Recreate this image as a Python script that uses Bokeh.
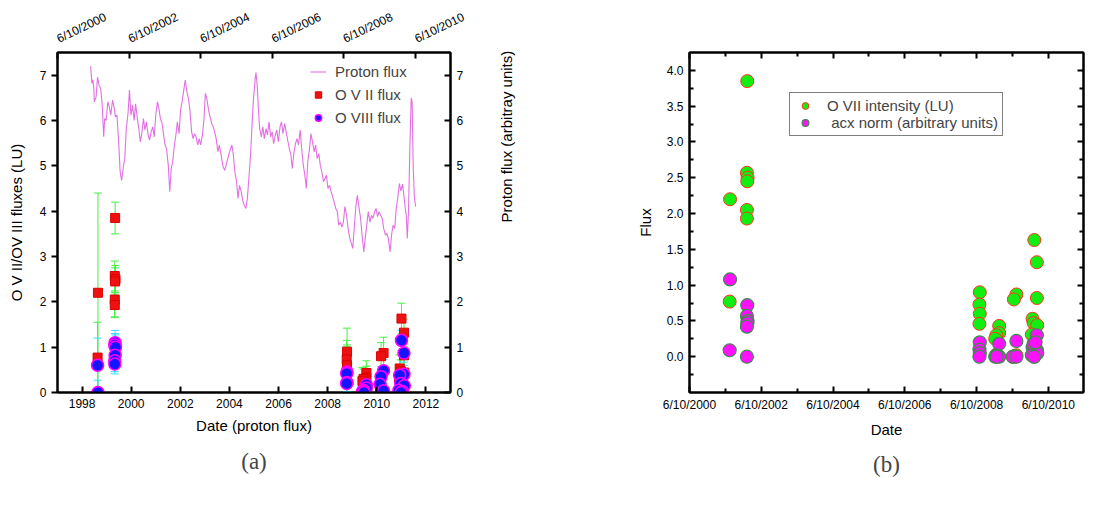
import math
from bokeh.plotting import figure
from bokeh.models import (Range1d, LinearAxis, FixedTicker, ColumnDataSource, Whisker,
                          TeeHead, Legend, LegendItem, Title, NumeralTickFormatter)
from bokeh.layouts import row
from bokeh.embed import file_html
from bokeh.resources import INLINE

# ---------------------------------------------------------------- data
# Proton flux (arbitrary units) against decimal year
pf_year = [
    1998.35, 1998.40, 1998.44, 1998.48, 1998.50, 1998.57, 1998.63, 1998.69, 1998.76, 1998.82,
    1998.88, 1998.92, 1998.98, 1999.05, 1999.11, 1999.17, 1999.24, 1999.30, 1999.36, 1999.42,
    1999.49, 1999.55, 1999.61, 1999.68, 1999.74, 1999.80, 1999.87, 1999.93, 1999.99, 2000.06,
    2000.12, 2000.18, 2000.25, 2000.31, 2000.37, 2000.43, 2000.50, 2000.56, 2000.62, 2000.69,
    2000.75, 2000.81, 2000.88, 2000.94, 2001.00, 2001.07, 2001.13, 2001.19, 2001.26, 2001.32,
    2001.38, 2001.44, 2001.51, 2001.57, 2001.63, 2001.69, 2001.76, 2001.82, 2001.88, 2001.95,
    2002.01, 2002.07, 2002.14, 2002.20, 2002.27, 2002.33, 2002.39, 2002.46, 2002.52, 2002.58,
    2002.64, 2002.71, 2002.77, 2002.83, 2002.90, 2002.96, 2003.02, 2003.09, 2003.15, 2003.21,
    2003.28, 2003.34, 2003.40, 2003.46, 2003.53, 2003.59, 2003.65, 2003.74, 2003.81, 2003.88,
    2003.95, 2004.03, 2004.10, 2004.16, 2004.22, 2004.29, 2004.35, 2004.41, 2004.48, 2004.54,
    2004.60, 2004.67, 2004.73, 2004.79, 2004.86, 2004.92, 2004.98, 2005.05, 2005.08, 2005.13,
    2005.18, 2005.23, 2005.30, 2005.36, 2005.42, 2005.49, 2005.55, 2005.61, 2005.68, 2005.74,
    2005.80, 2005.87, 2005.93, 2005.99, 2006.06, 2006.12, 2006.18, 2006.25, 2006.31, 2006.37,
    2006.44, 2006.50, 2006.56, 2006.62, 2006.69, 2006.75, 2006.81, 2006.88, 2006.94, 2007.00,
    2007.07, 2007.13, 2007.19, 2007.26, 2007.32, 2007.38, 2007.45, 2007.51, 2007.57, 2007.64,
    2007.70, 2007.76, 2007.83, 2007.89, 2007.95, 2008.01, 2008.08, 2008.14, 2008.20, 2008.26,
    2008.33, 2008.39, 2008.45, 2008.52, 2008.58, 2008.64, 2008.70, 2008.77, 2008.83, 2008.90,
    2008.96, 2009.02, 2009.09, 2009.15, 2009.21, 2009.28, 2009.34, 2009.40, 2009.47, 2009.53,
    2009.59, 2009.65, 2009.72, 2009.78, 2009.84, 2009.91, 2009.97, 2010.03, 2010.09, 2010.16,
    2010.22, 2010.28, 2010.35, 2010.41, 2010.47, 2010.54, 2010.60, 2010.66, 2010.73, 2010.79,
    2010.85, 2010.92, 2010.98, 2011.05, 2011.10, 2011.15, 2011.20, 2011.24, 2011.29, 2011.35,
    2011.40, 2011.44, 2011.48, 2011.53, 2011.58,
]
pf_value = [
    7.20, 6.82, 6.90, 6.70, 6.41, 6.52, 6.96, 6.78, 6.70, 6.34,
    5.64, 6.04, 6.00, 6.41, 6.30, 6.12, 6.45, 6.30, 6.08, 6.12,
    5.53, 4.87, 4.68, 4.98, 5.16, 5.82, 6.15, 6.67, 6.12, 6.34,
    6.00, 6.37, 6.04, 5.82, 5.53, 5.71, 6.04, 5.79, 5.97, 5.68,
    5.57, 5.75, 5.86, 5.64, 6.12, 6.41, 6.26, 6.04, 5.93, 5.68,
    5.46, 5.38, 5.01, 4.43, 4.94, 5.09, 5.46, 5.68, 5.97, 5.71,
    6.23, 6.41, 6.67, 6.89, 6.63, 6.49, 6.23, 5.75, 5.60, 5.71,
    5.64, 5.46, 5.60, 5.46, 5.68, 6.00, 6.60, 6.45, 6.23, 6.08,
    5.93, 5.86, 5.75, 5.60, 5.31, 5.46, 5.27, 4.98, 4.90, 5.05,
    5.20, 5.35, 5.46, 5.24, 4.87, 4.65, 4.28, 4.57, 4.43, 4.24,
    4.13, 4.06, 4.28, 4.72, 5.24, 5.90, 6.49, 6.93, 7.06, 6.78,
    6.26, 5.82, 5.64, 5.86, 5.60, 5.82, 5.68, 5.97, 5.64, 5.75,
    5.49, 5.68, 5.79, 5.53, 5.86, 5.97, 5.71, 5.93, 5.75, 5.57,
    5.38, 5.24, 4.94, 5.27, 5.49, 5.60, 5.46, 5.79, 5.38, 5.05,
    4.79, 4.50, 5.09, 5.38, 5.71, 5.53, 5.31, 5.46, 5.16, 5.27,
    5.01, 4.87, 4.65, 4.72, 4.79, 4.50, 4.57, 4.43, 4.32, 4.21,
    4.06, 3.99, 3.69, 3.76, 3.65, 3.76, 4.10, 3.91, 3.62, 3.40,
    3.29, 3.18, 3.69, 4.13, 4.35, 4.06, 3.84, 3.47, 3.10, 3.40,
    3.69, 3.99, 3.76, 3.91, 3.84, 3.99, 4.06, 3.88, 3.99, 3.91,
    3.84, 3.62, 3.47, 3.51, 3.40, 3.10, 3.47, 3.69, 3.62, 4.06,
    4.28, 4.61, 4.45, 4.60, 4.35, 4.10, 3.90, 3.40, 4.00, 5.50,
    6.50, 6.40, 5.00, 4.30, 4.10,
]

# Observations: date (decimal year), O VII, O VII error, O VIII, O VIII error, acx norm
obs_date = [
    2001.57, 2001.56,
    2002.05, 2002.04, 2002.06, 2002.05, 2002.04, 2002.04,
    2008.53, 2008.52, 2008.53, 2008.52,
    2009.07, 2009.07, 2008.99, 2008.96, 2009.00,
    2009.55, 2009.48, 2009.45, 2009.55,
    2010.05, 2010.12, 2010.12, 2010.00, 2010.03, 2010.13, 2009.98, 2010.08, 2010.04,
]
o7_flux = [
    2.20, 0.77,
    3.85, 2.57, 2.50, 2.45, 2.05, 1.93,
    0.90, 0.73, 0.60, 0.46,
    0.43, 0.33, 0.30, 0.25, 0.03,
    0.87, 0.80, 0.00, 0.02,
    1.63, 1.32, 0.82, 0.53, 0.47, 0.44, 0.31, 0.20, 0.05,
]
o7_err = [
    2.20, 0.78,
    0.35, 0.33, 0.30, 0.30, 0.38, 0.28,
    0.52, 0.42, 0.45, 0.55,
    0.27, 0.25, 0.22, 0.30, 0.20,
    0.35, 0.30, 0.20, 0.25,
    0.34, 0.30, 0.30, 0.30, 0.25, 0.30, 0.30, 0.25, 0.20,
]
o8_flux = [
    0.00, 0.60,
    1.10, 1.05, 1.00, 0.82, 0.70, 0.63,
    0.45, 0.42, 0.22, 0.20,
    0.17, 0.10, 0.05, 0.02, 0.00,
    0.48, 0.35, 0.18, 0.04,
    1.15, 0.87, 0.40, 0.38, 0.20, 0.15, 0.05, 0.02, 0.00,
]
o8_err = [
    0.27, 0.60,
    0.27, 0.25, 0.27, 0.25, 0.24, 0.22,
    0.20, 0.18, 0.20, 0.18,
    0.12, 0.12, 0.10, 0.10, 0.10,
    0.25, 0.22, 0.20, 0.15,
    0.22, 0.20, 0.20, 0.18, 0.18, 0.15, 0.15, 0.12, 0.10,
]
acx_norm = [
    1.08, 0.09,
    0.72, 0.57, 0.50, 0.47, 0.42, 0.00,
    0.20, 0.10, 0.05, 0.00,
    0.18, 0.00, 0.02, 0.00, 0.00,
    0.22, 0.00, 0.00, 0.00,
    0.00, 0.30, 0.09, 0.13, 0.18, 0.05, 0.02, 0.20, 0.00,
]

year_ticks = [1998, 2000, 2002, 2004, 2006, 2008, 2010, 2012]
date_ticks = [2000.44, 2002.44, 2004.44, 2006.44, 2008.44, 2010.44]
date_minor = [2001.44, 2003.44, 2005.44, 2007.44, 2009.44, 2011.44]
date_labels = ["6/10/2000", "6/10/2002", "6/10/2004", "6/10/2006", "6/10/2008", "6/10/2010"]
flux_ticks_a = [0, 1, 2, 3, 4, 5, 6, 7]
flux_ticks_b = [0.0, 0.5, 1.0, 1.5, 2.0, 2.5, 3.0, 3.5, 4.0]
flux_minor_b = [-0.25, 0.25, 0.75, 1.25, 1.75, 2.25, 2.75, 3.25, 3.75]

FONT = "Liberation Sans"
SERIF = "Liberation Serif"

src = ColumnDataSource(dict(
    date=obs_date,
    o7=o7_flux, o7_hi=[v + e for v, e in zip(o7_flux, o7_err)], o7_lo=[v - e for v, e in zip(o7_flux, o7_err)],
    o8=o8_flux, o8_hi=[v + e for v, e in zip(o8_flux, o8_err)], o8_lo=[v - e for v, e in zip(o8_flux, o8_err)],
    acx=acx_norm,
))


def style_axis(ax, tick_in=6, tick_out=0, labels=True):
    ax.axis_line_width = 2
    ax.axis_line_color = "black"
    ax.major_tick_line_width = 2
    ax.major_tick_in = tick_in
    ax.major_tick_out = tick_out
    ax.minor_tick_line_width = 2
    ax.major_label_text_font = FONT
    ax.major_label_text_font_size = "12px"
    ax.major_label_text_color = "black" if labels else None
    ax.axis_label_text_font = FONT
    ax.axis_label_text_font_size = "15px"
    ax.axis_label_text_font_style = "normal"
    ax.axis_label_text_color = "black"


# ---------------------------------------------------------------- panel (a)
p1 = figure(width=559, height=508, x_range=Range1d(1997, 2013), y_range=Range1d(0, 7.5),
            output_backend="svg", toolbar_location=None,
            min_border_left=57, min_border_right=109, min_border_top=52, min_border_bottom=116)
p1.extra_x_ranges = {"dates": Range1d(2000.44, 2011.42)}
p1.xgrid.visible = False
p1.ygrid.visible = False
p1.outline_line_color = "black"
p1.outline_line_width = 2

xb = p1.xaxis[0]
xb.ticker = FixedTicker(ticks=year_ticks)
style_axis(xb)
xb.minor_tick_line_color = None
xb.major_label_standoff = 6
xb.axis_label = "Date (proton flux)"
xb.axis_label_standoff = 6

yl = p1.yaxis[0]
yl.ticker = FixedTicker(ticks=flux_ticks_a)
style_axis(yl, tick_in=0, tick_out=6)
yl.minor_tick_line_color = None
yl.major_label_standoff = 5
yl.axis_label = "O V II/OV III fluxes (LU)"
yl.axis_label_standoff = 12

xt = LinearAxis(x_range_name="dates", ticker=FixedTicker(ticks=date_ticks),
                major_label_overrides=dict(zip(date_ticks, date_labels)))
style_axis(xt)
xt.minor_tick_line_color = None
xt.major_label_orientation = 0.45
xt.major_label_standoff = 13
p1.add_layout(xt, "above")

yr = LinearAxis(ticker=FixedTicker(ticks=flux_ticks_a))
style_axis(yr)
yr.minor_tick_line_color = None
yr.major_label_standoff = 6
yr.axis_label = "Proton flux (arbitray units)"
yr.axis_label_orientation = math.pi / 2
yr.axis_label_standoff = 40
p1.add_layout(yr, "right")

pf_line = p1.line(pf_year, pf_value, line_color="#e060e0", line_width=1.1, line_alpha=0.9)

o7_bars = Whisker(source=src, base="date", upper="o7_hi", lower="o7_lo", dimension="height",
                  x_range_name="dates", line_color="#44f044", line_width=1,
                  upper_head=TeeHead(size=8, line_color="#44f044", line_width=1),
                  lower_head=TeeHead(size=8, line_color="#44f044", line_width=1))
p1.add_layout(o7_bars)
o7_pts = p1.scatter("date", "o7", source=src, x_range_name="dates", marker="square", size=9,
                    fill_color="#ee1111", line_color="#dd0000")
o8_pts = p1.scatter("date", "o8", source=src, x_range_name="dates", marker="circle", size=12,
                    fill_color="#1414ff", line_color="#ff00ff", line_width=1.5)
o8_bars = Whisker(source=src, base="date", upper="o8_hi", lower="o8_lo", dimension="height",
                  x_range_name="dates", line_color="#33ddff", line_width=1,
                  upper_head=TeeHead(size=8, line_color="#33ddff", line_width=1),
                  lower_head=TeeHead(size=8, line_color="#33ddff", line_width=1))
p1.add_layout(o8_bars)

leg1 = Legend(items=[LegendItem(label="Proton flux", renderers=[pf_line]),
                     LegendItem(label="O V II flux", renderers=[o7_pts]),
                     LegendItem(label="O VIII flux", renderers=[o8_pts])],
              location=(253, 263), border_line_color=None, background_fill_alpha=0,
              padding=0, spacing=0, margin=0, glyph_width=16, glyph_height=23, label_height=23,
              label_standoff=9, label_text_font=FONT, label_text_font_size="15px")
p1.add_layout(leg1)

p1.add_layout(Title(text="(a)", align="center", text_font=SERIF, text_font_size="23px",
                    text_font_style="normal", standoff=21), "below")

# ---------------------------------------------------------------- panel (b)
p2 = figure(width=559, height=508, x_range=Range1d(2000.44, 2011.42), y_range=Range1d(-0.5, 4.25),
            output_backend="svg", toolbar_location=None,
            min_border_left=130, min_border_right=35, min_border_top=52, min_border_bottom=116)
p2.xgrid.visible = False
p2.ygrid.visible = False
p2.outline_line_color = "black"
p2.outline_line_width = 2

xticker_b = FixedTicker(ticks=date_ticks, minor_ticks=date_minor)
yticker_b = FixedTicker(ticks=flux_ticks_b, minor_ticks=flux_minor_b)

xb2 = p2.xaxis[0]
xb2.ticker = xticker_b
xb2.major_label_overrides = dict(zip(date_ticks, date_labels))
style_axis(xb2)
xb2.minor_tick_in = 4
xb2.minor_tick_out = 0
xb2.major_label_standoff = 5
xb2.axis_label = "Date"
xb2.axis_label_standoff = 6

yl2 = p2.yaxis[0]
yl2.ticker = yticker_b
yl2.formatter = NumeralTickFormatter(format="0.0")
style_axis(yl2)
yl2.minor_tick_in = 4
yl2.minor_tick_out = 0
yl2.major_label_standoff = 6
yl2.axis_label = "Flux"
yl2.axis_label_standoff = 10

xt2 = LinearAxis(ticker=xticker_b)
style_axis(xt2, labels=False)
xt2.minor_tick_in = 4
xt2.minor_tick_out = 0
p2.add_layout(xt2, "above")

yr2 = LinearAxis(ticker=yticker_b)
style_axis(yr2, labels=False)
yr2.minor_tick_in = 4
yr2.minor_tick_out = 0
p2.add_layout(yr2, "right")

o7_b = p2.scatter("date", "o7", source=src, marker="circle", size=13,
                  fill_color="#11ee11", line_color="#ff3322", line_width=1)
acx_b = p2.scatter("date", "acx", source=src, marker="circle", size=13,
                   fill_color="#ff11ff", line_color="#3d8a4d", line_width=1.2)

leg2 = Legend(items=[LegendItem(label="O VII intensity (LU)", renderers=[o7_b]),
                     LegendItem(label=" acx norm (arbitrary units)", renderers=[acx_b])],
              location=(100, 256), border_line_color="black", border_line_width=1,
              background_fill_color="white", background_fill_alpha=1,
              padding=4, spacing=0, margin=0, glyph_width=22, glyph_height=17, label_height=17,
              label_standoff=11, label_text_font=FONT, label_text_font_size="15px")
p2.add_layout(leg2)

p2.add_layout(Title(text="(b)", align="center", text_font=SERIF, text_font_size="23px",
                    text_font_style="normal", standoff=18), "below")

layout = row(p1, p2, spacing=0)
open("out.html", "w").write(file_html(layout, INLINE))
